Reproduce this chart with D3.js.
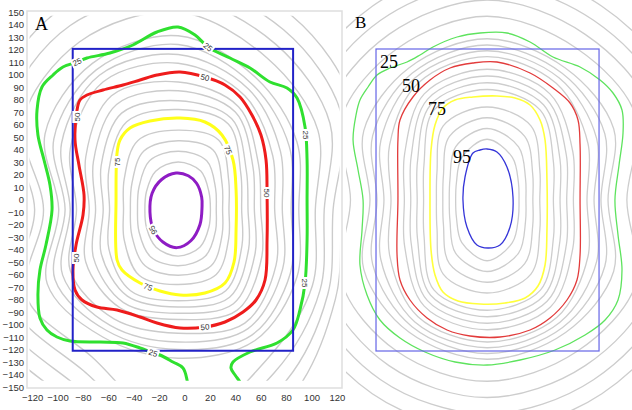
<!DOCTYPE html>
<html>
<head>
<meta charset="utf-8">
<script src="https://cdn.jsdelivr.net/npm/d3@7/dist/d3.min.js"></script>
<style>
  body { margin: 0; background: #fff; }
  svg { display: block; }
</style>
</head>
<body>
<div id="chart"></div>
<script>
// Grey contour levels (percent) and the directions (deg) their radii were read at
const greyLevels = [5, 10, 15, 20, 30, 35, 40, 45, 55, 60, 65, 70, 79, 83, 87, 91];
const angles = [0, 30, 60, 90, 120, 150, 180, 210, 240, 270, 300, 330];

// ---- Panel A (axes in mm) ----
const xTicksA = [-120, -100, -80, -60, -40, -20, 0, 20, 40, 60, 80, 100, 120];
const yTicksA = [150, 140, 130, 120, 110, 100, 90, 80, 70, 60, 50, 40, 30, 20, 10, 0,
  -10, -20, -30, -40, -50, -60, -70, -80, -90, -100, -110, -120, -130, -140, -150];
const centerA = [-5, -8];
const greyRadiiA = [
  [129, 160, 179, 194, 200, 180, 127, 174, 175, 205, 175, 143],
  [122, 149, 166, 182, 185, 167, 120, 162, 162, 195, 163, 136],
  [115, 138, 153, 170, 170, 154, 113, 150, 149, 185, 151, 129],
  [108, 127, 140, 158, 155, 141, 106, 138, 136, 175, 139, 122],
  [95, 108, 122, 139, 135, 121, 94, 119, 118, 119, 121, 108],
  [89, 101, 116, 132, 129, 113, 89, 112, 112, 112, 116, 102],
  [82, 93, 111, 124, 124, 106, 85, 105, 107, 106, 110, 95],
  [76, 86, 105, 117, 118, 98, 80, 98, 101, 99, 105, 89],
  [65, 73, 95, 102, 105, 84, 70, 84, 91, 88, 93, 76],
  [60, 68, 90, 95, 97, 77, 65, 77, 86, 83, 87, 70],
  [55, 62, 84, 87, 89, 70, 59, 70, 80, 78, 81, 64],
  [50, 57, 79, 80, 81, 63, 54, 63, 75, 73, 75, 58],
  [40, 46, 64, 63.5, 63.6, 49, 43, 49, 61, 60, 60, 46],
  [35, 40, 55, 55, 54, 42, 37.6, 42, 52, 52.6, 52, 40],
  [30, 34, 45, 46.6, 45, 35.6, 32, 35.6, 43.6, 45, 43, 34],
  [25.4, 28, 35.6, 38, 35.4, 28.8, 26.2, 28.8, 34.8, 37.3, 34.6, 28]
];
const green25A = [[2.8, -152], [2, -144.4], [-1.2, -134.8], [-9.1, -130], [-19.3, -124.4],
  [-24.8, -122.8], [-35, -118.8], [-48.4, -114.8], [-66.5, -114], [-90.2, -113.2],
  [-100.4, -110], [-108.3, -104.4], [-113.8, -94.8], [-115.4, -76.4], [-113.8, -56.4],
  [-109.1, -36.4], [-104.3, -8.4], [-105.9, 11.6], [-110.6, 31.6], [-115.4, 51.6],
  [-116.1, 71.6], [-112.2, 90], [-103.5, 99.6], [-95.7, 106], [-84.6, 110], [-76.8, 113.2],
  [-58.7, 117.2], [-40.6, 123.6], [-21.7, 134], [-5.1, 138], [8.3, 131.6], [18.5, 122],
  [35.8, 113.2], [51.6, 105.2], [67.3, 94], [80.7, 89.2], [88.6, 81.2], [94.9, 58],
  [96.5, 31.6], [96.5, -0.4], [96.5, -32.4], [94.9, -66.8], [90.9, -88.4], [85.4, -104.4],
  [72.8, -114.8], [51.6, -122], [38.2, -130], [36.6, -134.8], [39.8, -140.4], [43.7, -146],
  [46.1, -152]];
const red50A = [[-84.6, 71.6], [-82.3, 79.6], [-76.8, 83.6], [-64.2, 87.6], [-48.4, 91.6],
  [-35, 95.6], [-21.7, 99.6], [-3.5, 102], [16.1, 98], [31.9, 91.6], [43.7, 82], [53.1, 67.6],
  [60.2, 51.6], [64.2, 31.6], [65, 5.2], [65, -32.4], [63.4, -64.4], [56.3, -80.4],
  [46.1, -90], [31.9, -98], [16.1, -102], [-3.5, -102.8], [-21.7, -98.8], [-35, -94],
  [-53.1, -88.4], [-68.9, -86], [-80.7, -80.4], [-86.2, -72.4], [-87.8, -56.4],
  [-85.4, -36.4], [-79.9, -12.4], [-79.1, 3.6], [-83.1, 27.6], [-86.2, 47.6]];
const yellow75A = [[-53.1, -48.4], [-53.9, -0.4], [-53.1, 37.2], [-50.8, 47.6], [-42.9, 57.2],
  [-27.2, 62.8], [-3.5, 65.2], [16.1, 62], [29.5, 51.6], [38.2, 31.6], [40.6, 7.6],
  [40.6, -24.4], [39, -50], [31.9, -66.8], [16.1, -74.8], [-3.5, -76.4], [-19.3, -73.2],
  [-35, -66.8], [-49.2, -56.4]];
const purple95A = [[-6.7, 21.2], [3, 19], [9.5, 13], [13.5, 2], [13.8, -6], [12.2, -20],
  [5, -33], [-6, -38.5], [-17, -34], [-24.5, -24], [-27.2, -10], [-25.5, 5], [-18, 16]];
const labelsA = [
  ['25', -84.6, 110, -25], ['25', 18.5, 122, 38], ['25', 95.7, 51.6, 90], ['25', 94.9, -66.8, 90],
  ['25', -24.8, -122.8, 18],
  ['50', -84.8, 66, -90], ['50', -85, -46.8, -90], ['50', 16.1, 97.5, 14], ['50', 65, 5.2, 90],
  ['50', 16.1, -102, -5],
  ['75', -53.2, 30, -90], ['75', 34.3, 39.6, 66], ['75', -28.7, -70, 22],
  ['95', -24.8, -24.4, -118]
];
const boxA = [-88, 85.5, -121, 120.5];

// ---- Panel B ----
const centerB = [0, 0];
const greyRadiiB = [
  [136, 170, 179, 186, 179, 167, 134, 167, 179, 184, 179, 170],
  [127, 158, 166, 173, 166, 155, 125, 155, 166, 171, 166, 158],
  [118, 146, 153, 160, 153, 143, 116, 143, 153, 158, 153, 146],
  [109, 134, 140, 147, 140, 131, 106.5, 131, 140, 145, 140, 134],
  [94.3, 114, 122, 129, 122, 111, 91.3, 111, 122, 127.4, 122.4, 114],
  [88.8, 106, 117, 124, 117, 103, 85.8, 103, 117, 122.8, 117.8, 106],
  [83.4, 98.6, 112.6, 119.4, 112.6, 95.6, 80.4, 95.6, 112.6, 118.2, 113.2, 98.6],
  [77.9, 90.8, 107.8, 114.7, 107.8, 87.8, 74.9, 87.8, 107.8, 113.6, 108.6, 90.8],
  [67.3, 77.2, 98, 104.6, 98, 74.2, 64.5, 74.2, 98, 103.8, 98.8, 77.2],
  [62.1, 71.4, 93, 99.2, 93, 68.4, 59.5, 68.4, 93, 98.6, 93.6, 71.4],
  [56.9, 65.6, 88, 93.8, 88, 62.6, 54.5, 62.6, 88, 93.4, 88.4, 65.6],
  [51.7, 59.8, 83, 88.4, 83, 56.8, 49.5, 56.8, 83, 88.2, 83.2, 59.8],
  [41.1, 47.5, 68.4, 74.4, 68.4, 45.1, 39.5, 45.1, 68.4, 74.4, 68.4, 47.5],
  [35.7, 41.1, 58.7, 65.8, 58.7, 39.3, 34.5, 39.3, 58.7, 65.8, 58.7, 41.1],
  [30.3, 34.6, 49.1, 57.2, 49.1, 33.4, 29.5, 33.4, 49.1, 57.2, 49.1, 34.6],
  [24.9, 28.2, 39.4, 48.6, 39.4, 27.6, 24.5, 27.6, 39.4, 48.6, 39.4, 28.2]
];
const green25B = [[-100.6, 24], [-104.5, 48], [-102.2, 68], [-99.1, 80], [-92.8, 90.4],
  [-85.8, 100], [-75.7, 105.6], [-62.4, 110.4], [-52.3, 116], [-42.2, 122.4], [-23.4, 130.4],
  [-5.5, 133.6], [15.5, 133.6], [33.5, 126.4], [51.4, 114.4], [72.5, 106.4], [88.1, 96],
  [98.2, 85.6], [105.2, 72], [106, 53.6], [102.9, 28], [99.7, 0], [102.1, -28], [105.2, -56],
  [102.1, -80], [92, -96], [76.4, -108], [53, -120], [25.7, -128], [0, -132], [-24.9, -129.6],
  [-48.4, -121.6], [-67.9, -110.4], [-83.5, -96], [-93.6, -76], [-99.1, -52], [-97.5, -24],
  [-96.7, 0]];
const red50B = [[-69.5, 48], [-67.9, 64], [-57.8, 82.4], [-44.5, 96], [-28.9, 105.6],
  [-11, 109.6], [7.7, 110.4], [33.5, 101.6], [51.4, 89.6], [64.7, 77.6], [70.9, 64],
  [72.5, 44], [72.5, 0], [72.5, -44], [70.1, -64], [62.3, -80], [49.1, -94.4], [33.5, -104],
  [10.1, -109.6], [-13.3, -108.8], [-31.2, -104], [-46.8, -94.4], [-60.1, -80], [-67.9, -64],
  [-70.2, -44], [-69.5, 0]];
const yellow75B = [[7.7, 83.2], [-11, 82.4], [-25, 80], [-34.4, 73.6], [-40.6, 60], [-43.7, 40],
  [-44.5, 0], [-43.7, -40], [-40.6, -60], [-34.4, -73.6], [-22.7, -80.8], [-5.5, -83.2],
  [14, -82.4], [29.6, -78.4], [39.7, -68.8], [45.2, -52], [46.7, -24], [46.7, 16], [45.2, 48],
  [41.3, 64], [33.5, 76], [21.8, 81.6]];
const blue95B = [[-0.1, 40.8], [-5.5, 40], [-11, 37.6], [-17.2, 18.4], [-18.8, 0], [-15.7, -21.6],
  [-7.9, -36], [0.7, -38.4], [10.1, -36], [17.9, -21.6], [20.2, 2.4], [15.5, 26.4], [7.7, 38.4]];
const labelsB = [['25', -83.5, 105.6], ['50', -66.3, 86.4], ['75', -46.1, 68], ['95', -26.6, 29.6]];
const boxB = [-86.6, 87.3, -120.8, 120.8];

const width = 632, height = 410;
const svg = d3.select('#chart').append('svg')
  .attr('width', width)
  .attr('height', height);

const defs = svg.append('defs');

function ring(center, radii) {
  return angles.map((a, i) => {
    const t = a * Math.PI / 180;
    return [center[0] + radii[i] * Math.cos(t), center[1] + radii[i] * Math.sin(t)];
  });
}

function drawPanel(id, opt) {
  const { x, y, clip, center, greyRadii, colored, box, boxStyle, greyStyle } = opt;
  const g = svg.append('g');

  defs.append('clipPath').attr('id', id)
    .append('rect')
    .attr('x', x(clip[0])).attr('y', y(clip[3]))
    .attr('width', x(clip[1]) - x(clip[0]))
    .attr('height', y(clip[2]) - y(clip[3]));

  const lines = g.append('g').attr('clip-path', 'url(#' + id + ')');

  const closed = d3.line().x(d => x(d[0])).y(d => y(d[1]))
    .curve(d3.curveCatmullRomClosed.alpha(0.5));
  const open = d3.line().x(d => x(d[0])).y(d => y(d[1]))
    .curve(d3.curveCatmullRom.alpha(0.5));

  // Grey contour rings
  lines.selectAll('path.grey')
    .data(greyRadii)
    .enter()
    .append('path')
      .attr('class', 'grey')
      .attr('d', r => closed(ring(center, r)))
      .attr('fill', 'none')
      .attr('stroke', greyStyle.color)
      .attr('stroke-width', greyStyle.width);

  // Coloured contours
  lines.selectAll('path.level')
    .data(colored)
    .enter()
    .append('path')
      .attr('class', 'level')
      .attr('d', c => (c.closed ? closed : open)(c.pts))
      .attr('fill', 'none')
      .attr('stroke', c => c.color)
      .attr('stroke-width', c => c.width)
      .attr('stroke-linejoin', 'round');

  // Blue box
  g.append('rect')
    .attr('x', x(box[0])).attr('y', y(box[3]))
    .attr('width', x(box[1]) - x(box[0]))
    .attr('height', y(box[2]) - y(box[3]))
    .attr('fill', 'none')
    .attr('stroke', boxStyle.color)
    .attr('stroke-width', boxStyle.width);

  return g;
}

// ---- Panel A ----
const xA = d3.scaleLinear().domain([-124, 124]).range([27, 342]);
const yA = d3.scaleLinear().domain([-150, 150]).range([387, 12]);

const gA = drawPanel('clipA', {
  x: xA, y: yA,
  clip: [-122, 122, -145, 147],
  center: centerA,
  greyRadii: greyRadiiA,
  greyStyle: { color: '#cbcbcb', width: 1.4 },
  colored: [
    { pts: green25A, color: '#2fe02f', width: 3, closed: false },
    { pts: red50A, color: '#ee1c1c', width: 3, closed: true },
    { pts: yellow75A, color: '#ffff1a', width: 3, closed: true },
    { pts: purple95A, color: '#8e1cc4', width: 3, closed: true }
  ],
  box: boxA,
  boxStyle: { color: '#2222c8', width: 2 }
});

// Frame
gA.insert('rect', ':first-child')
  .attr('x', xA(-124)).attr('y', yA(150.8))
  .attr('width', xA(124) - xA(-124))
  .attr('height', yA(-150.8) - yA(150.8))
  .attr('fill', 'none')
  .attr('stroke', '#dedede')
  .attr('stroke-width', 1.5);

// Contour labels
const labA = gA.selectAll('g.lab')
  .data(labelsA)
  .enter()
  .append('g')
    .attr('class', 'lab')
    .attr('transform', d => 'translate(' + xA(d[1]) + ',' + yA(d[2]) + ') rotate(' + d[3] + ')');
labA.append('rect')
  .attr('x', -6).attr('y', -4.5).attr('width', 12).attr('height', 9)
  .attr('fill', '#fff');
labA.append('text')
  .attr('text-anchor', 'middle')
  .attr('dy', '0.35em')
  .attr('font-family', 'Liberation Sans, Arial, sans-serif')
  .attr('font-size', 8)
  .attr('fill', '#333')
  .text(d => d[0]);

// Axes
const axisY = gA.append('g')
  .attr('transform', 'translate(' + xA(-124) + ',0)')
  .call(d3.axisLeft(yA).tickValues(yTicksA).tickSize(0).tickPadding(3));
const axisX = gA.append('g')
  .attr('transform', 'translate(0,' + yA(-150.8) + ')')
  .call(d3.axisBottom(xA).tickValues(xTicksA).tickSize(0).tickPadding(6));
[axisY, axisX].forEach(a => {
  a.select('.domain').remove();
  a.selectAll('text')
    .attr('font-family', 'Liberation Sans, Arial, sans-serif')
    .attr('font-size', 9.5)
    .attr('fill', '#333');
});

gA.append('text')
  .attr('x', 35).attr('y', 30)
  .attr('font-family', 'Liberation Serif, Times New Roman, serif')
  .attr('font-size', 18)
  .text('A');

// ---- Panel B ----
const xB = d3.scaleLinear().domain([-110, 113]).range([346, 632]);
const yB = d3.scaleLinear().domain([-168, 160]).range([410, 0]);

const gB = drawPanel('clipB', {
  x: xB, y: yB,
  clip: [-110, 113, -168, 160],
  center: centerB,
  greyRadii: greyRadiiB,
  greyStyle: { color: '#cdcdcd', width: 1.3 },
  colored: [
    { pts: green25B, color: '#5ee35e', width: 1.3, closed: true },
    { pts: red50B, color: '#e23b3b', width: 1.3, closed: true },
    { pts: yellow75B, color: '#ffff3c', width: 1.6, closed: true },
    { pts: blue95B, color: '#3535d8', width: 1.3, closed: true }
  ],
  box: boxB,
  boxStyle: { color: '#6565e6', width: 1.2 }
});

gB.selectAll('text.lvl')
  .data(labelsB)
  .enter()
  .append('text')
    .attr('class', 'lvl')
    .attr('x', d => xB(d[1]))
    .attr('y', d => yB(d[2]))
    .attr('font-family', 'Liberation Serif, Times New Roman, serif')
    .attr('font-size', 18)
    .attr('fill', '#000')
    .text(d => d[0]);

gB.append('text')
  .attr('x', 355).attr('y', 28)
  .attr('font-family', 'Liberation Serif, Times New Roman, serif')
  .attr('font-size', 17)
  .text('B');
</script>
</body>
</html>
